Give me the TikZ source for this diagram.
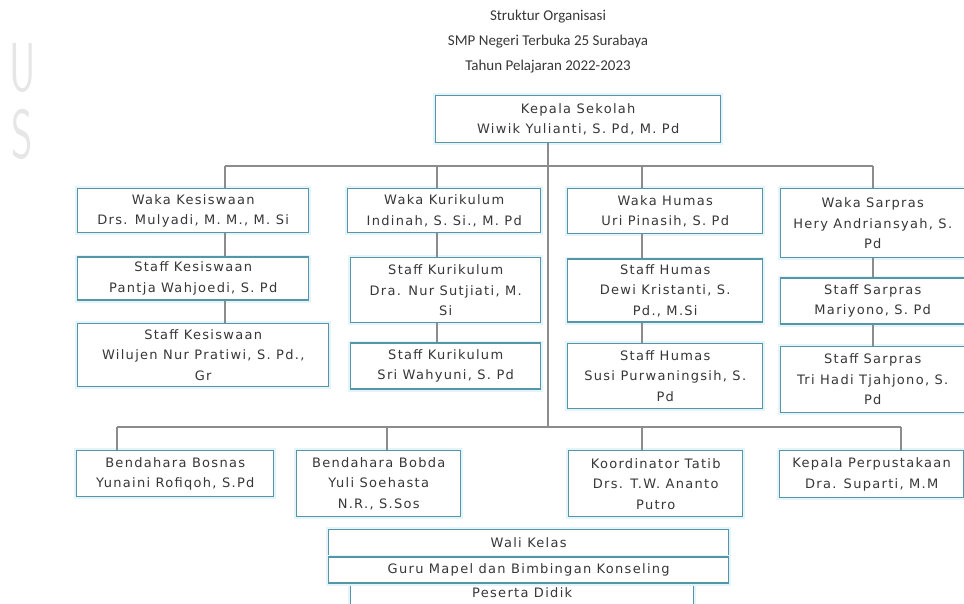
\documentclass[tikz,border=0pt]{standalone}
\usepackage{fontspec}
\usepackage{tikz}
\usetikzlibrary{calc,positioning}
\newfontfamily\boxfont[LetterSpace=10]{DejaVu Sans}
\newfontfamily\titlefont{Carlito}
\definecolor{boxline}{RGB}{82,150,168}
\definecolor{glow}{RGB}{228,244,249}
\definecolor{ink}{RGB}{55,55,55}
\definecolor{wire}{RGB}{140,140,140}
\definecolor{mark}{RGB}{230,230,230}

\begin{document}
\begin{tikzpicture}[x=1pt, y=-1pt,
  unit/.style={rectangle, draw=boxline, line width=1.4pt, fill=white,
               inner sep=2pt, align=center, text=ink, anchor=north west,
               font=\boxfont\fontsize{13}{20.5}\selectfont,
               preaction={draw=glow, line width=5pt}},
  link/.style={draw=wire, line width=1.2pt},
  ttl/.style={align=center, text=ink, font=\titlefont\fontsize{15}{25}\selectfont},
  wmark/.style={text=mark, font=\sffamily\fontsize{66}{66}\selectfont, inner sep=0pt},
]
  \useasboundingbox (0,0) rectangle (964,603);
  \clip (0,0) rectangle (964,603);

  % ---- watermark ----
  \node[wmark] (wmU) at (23,68) {\scalebox{0.62}[1.05]{U}};
  \node[wmark] (wmS) at (22,134) {\scalebox{0.62}[1.05]{S}};

  % ---- title ----
  \node[ttl] (title) at (548,42)
      {Struktur Organisasi\\
       SMP Negeri Terbuka 25 Surabaya\\
       Tahun Pelajaran 2022-2023};

  % ---- head ----
  \node[unit, minimum width=285pt, minimum height=47pt] (kepala) at (435,95)
      {Kepala Sekolah\\ Wiwik Yulianti, S. Pd, M. Pd};

  % ---- waka row ----
  \node[unit, minimum width=231pt, minimum height=44pt] (wks) at (77,188)
      {Waka Kesiswaan\\ Drs. Mulyadi, M. M., M. Si};
  \node[unit, minimum width=193pt, minimum height=44pt] (wku) at (347,188)
      {Waka Kurikulum\\ Indinah, S. Si., M. Pd};
  \node[unit, minimum width=195pt, minimum height=45pt] (wh) at (567,188)
      {Waka Humas\\ Uri Pinasih, S. Pd};
  \node[unit, minimum width=184pt, minimum height=69pt] (ws) at (780,188)
      {Waka Sarpras\\ Hery Andriansyah, S.\\ Pd};

  % ---- staff ----
  \node[unit, minimum width=231pt, minimum height=43pt,
        below=23pt of wks.south west, anchor=north west] (sk1)
      {Staff Kesiswaan\\ Pantja Wahjoedi, S. Pd};
  \node[unit, minimum width=251pt, minimum height=63pt,
        below=22pt of sk1.south west, anchor=north west] (sk2)
      {Staff Kesiswaan\\ Wilujen Nur Pratiwi, S. Pd.,\\ Gr};
  \node[unit, minimum width=190pt, minimum height=65pt] (sku1) at (350,257)
      {Staff Kurikulum\\ Dra. Nur Sutjiati, M.\\ Si};
  \node[unit, minimum width=190pt, minimum height=46pt,
        below=19pt of sku1.south west, anchor=north west] (sku2)
      {Staff Kurikulum\\ Sri Wahyuni, S. Pd};
  \node[unit, minimum width=195pt, minimum height=63pt,
        below=24pt of wh.south west, anchor=north west] (sh1)
      {Staff Humas\\ Dewi Kristanti, S.\\ Pd., M.Si};
  \node[unit, minimum width=195pt, minimum height=65pt,
        below=20pt of sh1.south west, anchor=north west] (sh2)
      {Staff Humas\\ Susi Purwaningsih, S.\\ Pd};
  \node[unit, minimum width=184pt, minimum height=46pt,
        below=19pt of ws.south west, anchor=north west] (ss1)
      {Staff Sarpras\\ Mariyono, S. Pd};
  \node[unit, minimum width=184pt, minimum height=66pt,
        below=21pt of ss1.south west, anchor=north west] (ss2)
      {Staff Sarpras\\ Tri Hadi Tjahjono, S.\\ Pd};

  % ---- lower row ----
  \node[unit, minimum width=197pt, minimum height=46pt] (bbos) at (76,450)
      {Bendahara Bosnas\\ Yunaini Rofiqoh, S.Pd};
  \node[unit, minimum width=164pt, minimum height=66pt] (bbob) at (296,450)
      {Bendahara Bobda\\ Yuli Soehasta\\ N.R., S.Sos};
  \node[unit, minimum width=174pt, minimum height=66pt] (tatib) at (568,450)
      {Koordinator Tatib\\ Drs. T.W. Ananto\\ Putro};
  \node[unit, minimum width=184pt, minimum height=47pt] (perpus) at (779,450)
      {Kepala Perpustakaan\\ Dra. Suparti, M.M};

  % ---- bottom stack ----
  \node[unit, minimum width=400pt, minimum height=26pt] (wali) at (328,529)
      {Wali Kelas};
  \node[unit, minimum width=343pt, minimum height=0pt, text height=11pt, text depth=13pt,
        below=27pt of wali.south west, xshift=22pt, anchor=north west] (murid)
      {Peserta Didik};
  \node[unit, minimum width=400pt, minimum height=26pt,
        below=0pt of wali.south west, anchor=north west] (guru)
      {Guru Mapel dan Bimbingan Konseling};

  % ---- hubs ----
  \coordinate (trunk) at (548,427);
  \coordinate (up1) at (225,166);
  \coordinate (up2) at (437,166);
  \coordinate (up3) at (642,166);
  \coordinate (up4) at (873,166);
  \coordinate (lo1) at (117,427);
  \coordinate (lo2) at (387,427);
  \coordinate (lo3) at (642,427);
  \coordinate (lo4) at (901,427);

  % ---- connectors ----
  \draw[link] (kepala.south -| trunk) -- (trunk);
  \draw[link] (up1) -- (up4);
  \draw[link] (lo1) -- (lo4);
  \draw[link] (up1) -- (up1 |- wks.north);
  \draw[link] (up2) -- (up2 |- wku.north);
  \draw[link] (up3) -- (up3 |- wh.north);
  \draw[link] (up4) -- (up4 |- ws.north);
  \draw[link] (up1 |- wks.south) -- (up1 |- sk1.north);
  \draw[link] (up1 |- sk1.south) -- (up1 |- sk2.north);
  \draw[link] (up2 |- wku.south) -- (up2 |- sku1.north);
  \draw[link] (up2 |- sku1.south) -- (up2 |- sku2.north);
  \draw[link] (up3 |- wh.south) -- (up3 |- sh1.north);
  \draw[link] (up3 |- sh1.south) -- (up3 |- sh2.north);
  \draw[link] (up4 |- ws.south) -- (up4 |- ss1.north);
  \draw[link] (up4 |- ss1.south) -- (up4 |- ss2.north);
  \draw[link] (lo1) -- (lo1 |- bbos.north);
  \draw[link] (lo2) -- (lo2 |- bbob.north);
  \draw[link] (lo3) -- (lo3 |- tatib.north);
  \draw[link] (lo4) -- (lo4 |- perpus.north);
\end{tikzpicture}
\end{document}
